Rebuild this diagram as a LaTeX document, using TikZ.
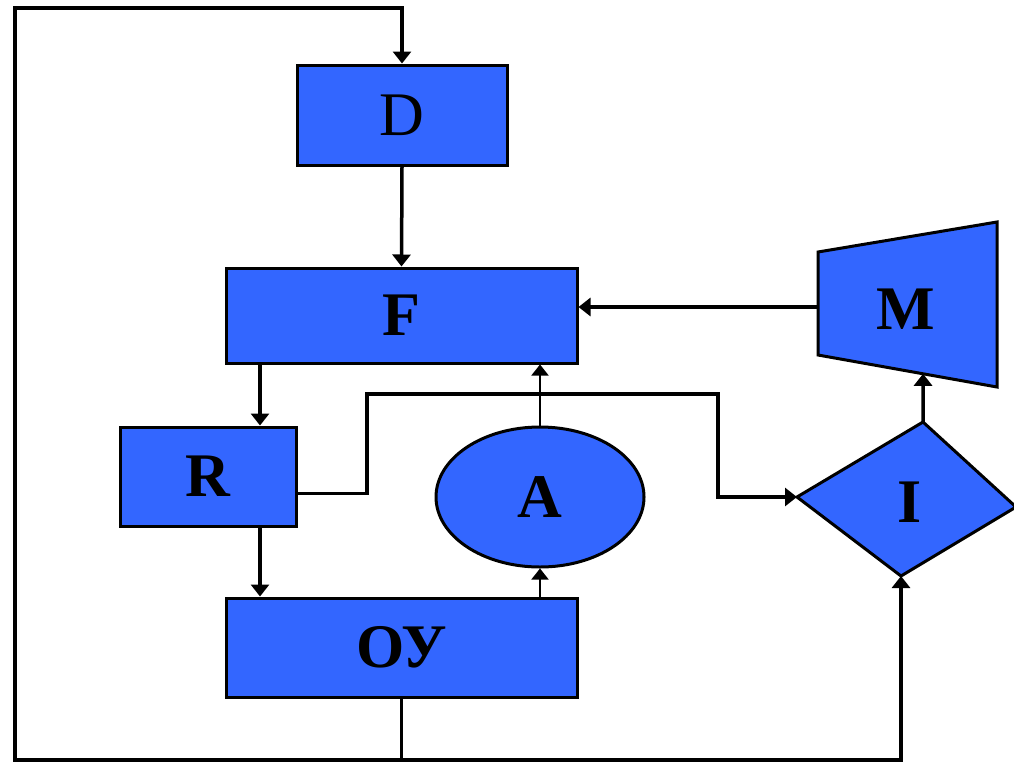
\documentclass[tikz,border=0pt]{standalone}
\usepackage{fontspec}
\setmainfont{Liberation Serif}
\usepackage{tikz}
\usetikzlibrary{calc,arrows.meta,positioning,shapes.geometric}

\definecolor{boxblue}{RGB}{51,102,255}

\begin{document}
\begin{tikzpicture}[x=1pt,y=-1pt,
  blk/.style={draw=black,line width=3pt,fill=boxblue,inner sep=0pt},
  lbl/.style={font=\fontsize{62}{62}\selectfont\bfseries},
  arr/.style={line width=3.5pt,-{Triangle[width=18pt,length=12pt]}},
  thinarr/.style={line width=1.8pt,-{Triangle[width=17pt,length=11pt]}}]
\useasboundingbox (0,0) rectangle (1014,764);
% boxes
\node[blk,lbl,minimum width=210pt,minimum height=100pt] (D) at (402,115) {\mdseries D};
\node[blk,lbl,minimum width=351pt,minimum height=95pt] (F) at (401.5,315.5) {F};
\node[blk,lbl,minimum width=176pt,minimum height=99pt] (R) at (208,476.5) {R};
\node[blk,lbl,minimum width=351pt,minimum height=99pt] (OY) at (401.5,647.5) {ОУ};
\node[blk,lbl,ellipse,minimum width=208pt,minimum height=140pt] (A) at (540,497) {A};
% M
\coordinate (M1) at (818,252);
\coordinate (M2) at (997,222);
\coordinate (M3) at (997,387);
\coordinate (M4) at (818,355);
\filldraw[blk] (M1)--(M2)--(M3)--(M4)--cycle;
\node[lbl] (M) at (906,309) {M};
% I
\coordinate (I1) at (923,422);
\coordinate (I2) at (1016,507);
\coordinate (I3) at (901,576);
\coordinate (I4) at (797,497);
\filldraw[blk] (I1)--(I2)--(I3)--(I4)--cycle;
\node[lbl] (I) at (910,502) {I};
% outer loop
\coordinate (bj) at (401.5,760);
\coordinate (bl) at (15,760);
\coordinate (tl) at (15,8);
\draw[line width=3.5pt] (OY.south) -- (bj);
\draw[arr] (bj) -- (bl) -- (tl) -| (D.north);
\draw[arr] (bj) -| (I3);
% links
\draw[arr] (D.south) -- (F.north);
\coordinate (Mw) at (818,307);
\draw[arr] (Mw) -- (F.east |- Mw);
\coordinate (xr) at (260,0);
\draw[arr] (F.south -| xr) -- (R.north -| xr);
\draw[arr] (R.south -| xr) -- (OY.north -| xr);
\coordinate (Rout) at ($(R.east)+(0,17)$);
\coordinate (k1) at (367,394);
\coordinate (k2) at (718,497);
\draw[arr] (Rout) -| (k1) -| (k2) -- (I4);
\draw[thinarr] (A.north) -- (A.north |- F.south);
\draw[thinarr] (A.south |- OY.north) -- (A.south);
\coordinate (Mb) at ($(M4)!0.587!(M3)$);
\draw[arr] (I1) -- (Mb);
\end{tikzpicture}
\end{document}
